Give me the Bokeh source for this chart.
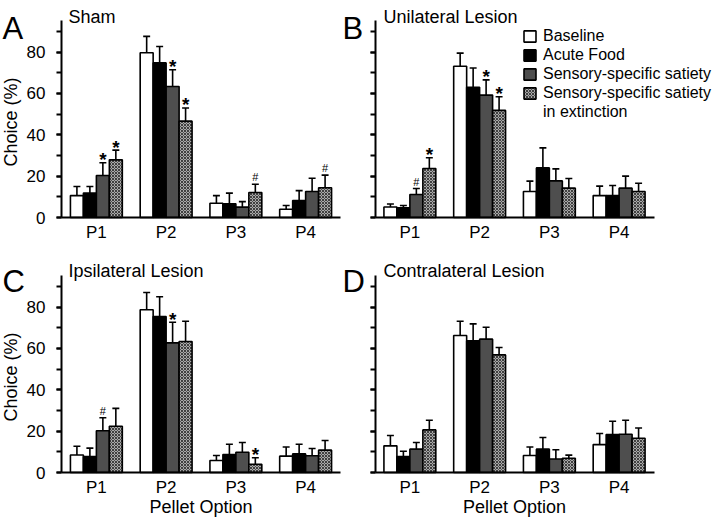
import math
from bokeh.plotting import figure
from bokeh.models import (Label, Legend, LegendItem, FixedTicker,
                          SingleIntervalTicker, Range1d)
from bokeh.layouts import column, row
from bokeh.embed import file_html
from bokeh.resources import INLINE
from bokeh.core.properties import value

FONT = "Liberation Sans"

# ---------------- data ----------------
pellets = ["P1", "P2", "P3", "P4"]
conditions = ["Baseline", "Acute Food", "Sensory-specific satiety",
              "Sensory-specific satiety"]
legend_extra = "in extinction"
y_tick_values = [0, 20, 40, 60, 80]
y_axis_max = 95.3

# A: Sham
sham_baseline = [10.6, 79.7, 6.9, 4.0]
sham_acute = [11.8, 74.8, 6.6, 8.2]
sham_sss = [20.3, 63.4, 5.0, 12.6]
sham_ext = [27.9, 46.6, 12.1, 14.4]
sham_baseline_err = [4.4, 7.9, 3.7, 1.8]
sham_acute_err = [3.2, 7.9, 5.2, 4.8]
sham_sss_err = [6.2, 8.1, 2.7, 6.4]
sham_ext_err = [4.7, 6.4, 4.0, 6.1]
sham_sss_sig = ["*", "*", "", ""]
sham_ext_sig = ["*", "*", "#", "#"]

# B: Unilateral lesion
uni_baseline = [5.1, 73.2, 12.6, 10.6]
uni_acute = [4.7, 63.0, 24.0, 10.6]
uni_sss = [11.1, 59.2, 17.7, 14.2]
uni_ext = [23.7, 51.8, 14.2, 12.6]
uni_baseline_err = [1.4, 6.3, 5.0, 4.6]
uni_acute_err = [1.1, 9.3, 9.7, 4.9]
uni_sss_err = [2.9, 7.4, 5.8, 5.8]
uni_ext_err = [5.2, 6.6, 4.7, 4.0]
uni_sss_sig = ["#", "*", "", ""]
uni_ext_sig = ["*", "*", "", ""]

# C: Ipsilateral lesion
ipsi_baseline = [8.5, 78.7, 5.8, 7.9]
ipsi_acute = [7.7, 75.5, 8.7, 9.0]
ipsi_sss = [20.2, 62.7, 9.8, 8.1]
ipsi_ext = [22.4, 63.4, 4.0, 10.8]
ipsi_baseline_err = [4.2, 8.4, 2.4, 4.4]
ipsi_acute_err = [4.1, 9.5, 5.0, 4.7]
ipsi_sss_err = [6.3, 10.0, 4.7, 3.5]
ipsi_ext_err = [8.6, 9.8, 3.1, 4.7]
ipsi_sss_sig = ["#", "*", "", ""]
ipsi_ext_sig = ["", "", "*", ""]

# D: Contralateral lesion
contra_baseline = [12.9, 66.3, 8.2, 13.5]
contra_acute = [7.7, 63.7, 11.3, 18.4]
contra_sss = [11.3, 64.5, 6.5, 18.5]
contra_ext = [20.6, 56.9, 6.9, 16.6]
contra_baseline_err = [5.0, 6.9, 4.1, 5.4]
contra_acute_err = [2.6, 8.2, 5.6, 6.4]
contra_sss_err = [3.2, 5.8, 4.5, 6.8]
contra_ext_err = [4.7, 3.6, 1.5, 4.9]
contra_sss_sig = ["", "", "", ""]
contra_ext_sig = ["", "", "", ""]

# ---------------- geometry (page pixels) ----------------
COL_X = [(0, 342), (342, 720)]          # canvas extents per column
ROW_Y = [(0, 256), (256, 517)]          # canvas extents per row
AXIS_X = [(61, 340), (374.5, 653.5)]    # x-axis line start/end per column
AXIS_Y = [(217, 20), (472, 275)]        # zero / top of y axis per row

# ---------------- styles ----------------
BAR_W = 0.186
OFFSETS = [-1.5 * BAR_W, -0.5 * BAR_W, 0.5 * BAR_W, 1.5 * BAR_W]
STYLES = [
    dict(fill_color="white"),
    dict(fill_color="black"),
    dict(fill_color="#4e4e4e"),
    dict(fill_color="#a9a9a9", hatch_pattern="diagonal_cross",
         hatch_color="#404040", hatch_scale=3, hatch_weight=1),
]


def make_panel(letter, title, means, errs, sigs, col, rw, with_legend):
    cx0, cx1 = COL_X[col]
    cy0, cy1 = ROW_Y[rw]
    ax0, ax1 = AXIS_X[col]
    zy, ty = AXIS_Y[rw]
    kx = (ax1 - ax0) / 4.0
    ky = (zy - ty) / y_axis_max
    x_start = 0.5 - (ax0 - cx0) / kx
    x_end = 0.5 + (cx1 - ax0) / kx
    y_start = -(cy1 - zy) / ky
    y_end = (zy - cy0) / ky

    def sx(px):
        return px - cx0

    def sy(py):
        return cy1 - py

    p = figure(width=cx1 - cx0, height=cy1 - cy0,
               x_range=Range1d(x_start, x_end), y_range=Range1d(y_start, y_end),
               toolbar_location=None, output_backend="svg",
               min_border_left=0, min_border_right=0,
               min_border_top=0, min_border_bottom=0)
    p.outline_line_color = None
    p.xgrid.visible = False
    p.ygrid.visible = False
    p.background_fill_color = "white"
    p.border_fill_color = "white"

    renderers = []
    for ci in range(4):
        xs = [i + 1 + OFFSETS[ci] for i in range(len(pellets))]
        tops = [m + e for m, e in zip(means[ci], errs[ci])]
        p.segment(x0=xs, y0=means[ci], x1=xs, y1=tops,
                  line_color="black", line_width=1.6)
        p.segment(x0=[x - 0.05 for x in xs], y0=tops,
                  x1=[x + 0.05 for x in xs], y1=tops,
                  line_color="black", line_width=1.6)
        r = p.vbar(x=xs, top=means[ci], bottom=0, width=BAR_W,
                   line_color="black", line_width=1.6, **STYLES[ci])
        renderers.append(r)
        if ci in (2, 3):
            s = sigs[ci - 2]
            stx = [xs[i] for i in range(4) if s[i] == "*"]
            sty = [tops[i] for i in range(4) if s[i] == "*"]
            if stx:
                p.text(x=stx, y=sty, text=["*"] * len(stx),
                       text_font=value(FONT), text_font_size="19px",
                       text_font_style="bold", text_align="center",
                       text_baseline="alphabetic", y_offset=-3,
                       text_color="black")
            hx = [xs[i] for i in range(4) if s[i] == "#"]
            hy = [tops[i] for i in range(4) if s[i] == "#"]
            if hx:
                p.text(x=hx, y=hy, text=["#"] * len(hx),
                       text_font=value(FONT), text_font_size="11px",
                       text_align="center", text_baseline="alphabetic",
                       y_offset=-7, text_color="black")

    # y axis (drawn at x = 0.5 inside the full-canvas frame)
    ya = p.yaxis[0]
    ya.fixed_location = 0.5
    ya.bounds = (0, y_axis_max)
    ya.ticker = SingleIntervalTicker(interval=20, num_minor_ticks=2)
    ya.axis_line_width = 2
    ya.axis_line_color = "black"
    ya.major_tick_line_width = 2
    ya.minor_tick_line_width = 2
    ya.major_tick_out = 5
    ya.major_tick_in = 0
    ya.minor_tick_out = 5
    ya.minor_tick_in = 0
    ya.major_label_text_font = FONT
    ya.major_label_text_font_size = "17px"
    ya.major_label_text_color = "black"
    ya.major_label_standoff = 11
    if col == 1:
        ya.major_label_overrides = {v: "" for v in y_tick_values}

    # x axis (drawn at y = 0)
    xa = p.xaxis[0]
    xa.fixed_location = 0
    xa.bounds = (0.5, 4.5)
    xa.ticker = FixedTicker(ticks=[1, 2, 3, 4])
    xa.major_label_overrides = {i + 1: name for i, name in enumerate(pellets)}
    xa.axis_line_width = 2
    xa.axis_line_color = "black"
    xa.major_tick_out = 0
    xa.major_tick_in = 0
    xa.minor_tick_out = 0
    xa.minor_tick_in = 0
    xa.major_label_text_font = FONT
    xa.major_label_text_font_size = "17px"
    xa.major_label_text_color = "black"
    xa.major_label_standoff = 5

    # panel letter and title
    letter_x = 2 if col == 0 else 342
    base_y = 28 if rw == 0 else 281
    p.add_layout(Label(x=sx(letter_x), y=sy(base_y), x_units="screen",
                       y_units="screen", text=letter, text_font=FONT,
                       text_font_size="31px", text_baseline="alphabetic",
                       text_color="black"))
    title_x = 68 if col == 0 else 383
    title_y = 16 if rw == 0 else 270
    p.add_layout(Label(x=sx(title_x), y=sy(title_y), x_units="screen",
                       y_units="screen", text=title, text_font=FONT,
                       text_font_size="18px", text_baseline="alphabetic",
                       text_color="black"))
    if col == 0:
        p.add_layout(Label(x=sx(0), y=sy((zy + ty) / 2 + 3), x_units="screen",
                           y_units="screen", text="Choice (%)",
                           angle=math.pi / 2, text_align="center",
                           text_baseline="top", text_font=FONT,
                           text_font_size="18px", text_color="black"))
    if rw == 1:
        p.add_layout(Label(x=sx((ax0 + ax1) / 2), y=sy(506), x_units="screen",
                           y_units="screen", text="Pellet Option",
                           text_align="center", text_baseline="alphabetic",
                           text_font=FONT, text_font_size="18px",
                           text_color="black"))

    if with_legend:
        blank = p.vbar(x=[], top=[], width=BAR_W, fill_alpha=0, line_alpha=0)
        items = [LegendItem(label=conditions[i], renderers=[renderers[i]])
                 for i in range(4)]
        items.append(LegendItem(label=legend_extra, renderers=[blank]))
        leg = Legend(items=items, location=(sx(522), sy(121)),
                     glyph_width=15, glyph_height=14, label_standoff=6,
                     spacing=1, padding=0, margin=0, border_line_color=None,
                     background_fill_alpha=0, label_text_font=FONT,
                     label_text_font_size="16px", label_height=16,
                     label_text_color="black")
        p.add_layout(leg)
    return p


pa = make_panel("A", "Sham",
                [sham_baseline, sham_acute, sham_sss, sham_ext],
                [sham_baseline_err, sham_acute_err, sham_sss_err, sham_ext_err],
                [sham_sss_sig, sham_ext_sig], 0, 0, False)
pb = make_panel("B", "Unilateral Lesion",
                [uni_baseline, uni_acute, uni_sss, uni_ext],
                [uni_baseline_err, uni_acute_err, uni_sss_err, uni_ext_err],
                [uni_sss_sig, uni_ext_sig], 1, 0, True)
pc = make_panel("C", "Ipsilateral Lesion",
                [ipsi_baseline, ipsi_acute, ipsi_sss, ipsi_ext],
                [ipsi_baseline_err, ipsi_acute_err, ipsi_sss_err, ipsi_ext_err],
                [ipsi_sss_sig, ipsi_ext_sig], 0, 1, False)
pd = make_panel("D", "Contralateral Lesion",
                [contra_baseline, contra_acute, contra_sss, contra_ext],
                [contra_baseline_err, contra_acute_err, contra_sss_err, contra_ext_err],
                [contra_sss_sig, contra_ext_sig], 1, 1, False)

layout = column(row(pa, pb), row(pc, pd))
open("out.html", "w").write(file_html(layout, INLINE))
